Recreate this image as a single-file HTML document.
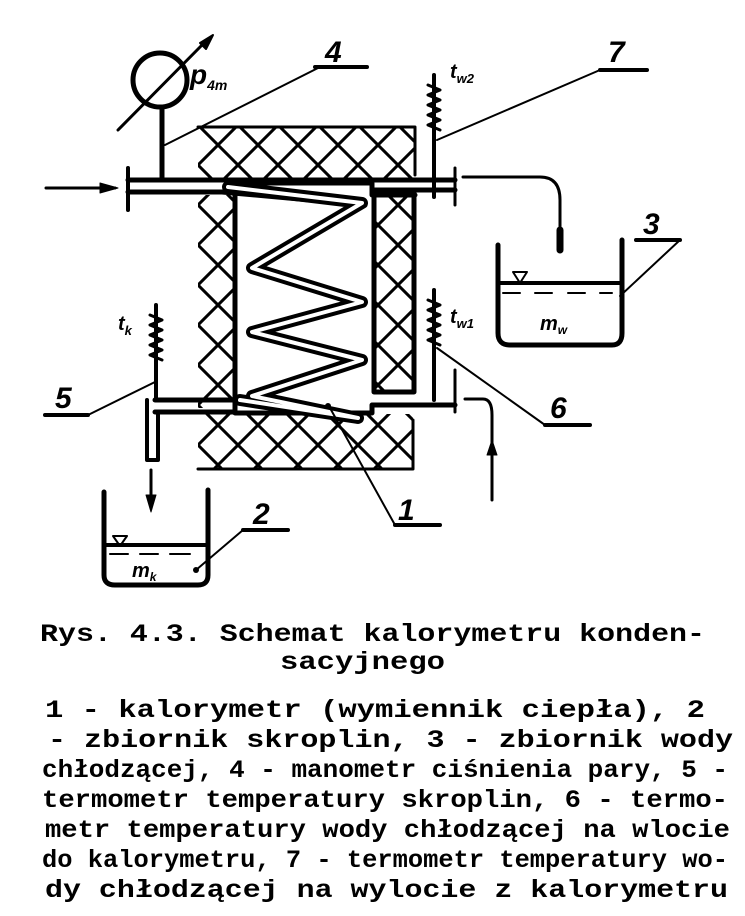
<!DOCTYPE html>
<html><head><meta charset="utf-8"><style>
html,body{margin:0;padding:0;background:#fff;}
svg{display:block;}
text{font-family:"Liberation Mono",monospace;font-weight:bold;fill:#000;}
.it{font-family:"Liberation Sans",sans-serif;font-style:italic;font-weight:bold;}
</style></head><body>
<svg width="745" height="916" viewBox="0 0 745 916" xmlns="http://www.w3.org/2000/svg">
<defs>
<pattern id="hx" x="198" y="125" width="40" height="40" patternUnits="userSpaceOnUse">
<path d="M0 0L40 40M40 0L0 40" stroke="#000" stroke-width="3"/>
</pattern>
</defs>
<g stroke="#000" fill="none" stroke-linecap="round" stroke-linejoin="round">
<rect x="198" y="127" width="217" height="53" fill="url(#hx)" stroke="none"/>
<path d="M198 127H415V175" stroke-width="3"/>
<rect x="198" y="195" width="37" height="213" fill="url(#hx)" stroke="none"/>
<rect x="198" y="414" width="215" height="55" fill="url(#hx)" stroke="none"/>
<path d="M198 469H413V420" stroke-width="3"/>
<rect x="374" y="190" width="40" height="202" fill="url(#hx)" stroke="#000" stroke-width="5"/>
<path d="M235 410V183H372V195H415" stroke-width="5"/>
<path d="M235 413H372V405H455" stroke-width="5"/>
<path d="M128 180H455" stroke-width="5"/>
<path d="M128 192H222L365 205" stroke-width="5"/>
<path d="M374 190H455" stroke-width="5"/>
<path d="M128 168V210" stroke-width="4"/>
<path d="M455 168V205M455 370V412" stroke-width="3"/>
<path d="M46 188H115" stroke-width="3"/>
<path d="M100 183L118 188L100 193Z" fill="#000" stroke-width="1"/>
<path d="M228 187L362 203L252 268L362 302L252 332L362 360L252 396L358 418L240 400" stroke-width="12"/>
<path d="M228 187L362 203L252 268L362 302L252 332L362 360L252 396L358 418L240 400" stroke="#fff" stroke-width="4"/>
<path d="M155 400H235" stroke-width="5"/>
<path d="M155 412H235" stroke-width="5"/>
<path d="M147 400V460H158V412" stroke-width="4"/>
<path d="M151 470V508" stroke-width="3"/>
<path d="M146 495L151 512L156 495Z" fill="#000" stroke-width="1"/>
<circle cx="160" cy="80" r="27" stroke-width="5"/>
<path d="M118 130L205 42" stroke-width="3"/>
<path d="M213 35L200 43L206 49Z" fill="#000" stroke-width="2"/>
<path d="M162 107V180" stroke-width="5"/>
<path d="M434 75V197" stroke-width="4"/>
<path d="M428 85l12 5l-12 5l12 5l-12 5l12 5l-12 5l12 5l-12 5l12 5" stroke-width="3"/>
<path d="M434 290V400" stroke-width="4"/>
<path d="M428 300l12 5l-12 5l12 5l-12 5l12 5l-12 5l12 5l-12 5l12 5" stroke-width="3"/>
<path d="M156 305V400" stroke-width="4"/>
<path d="M150 315l12 5l-12 5l12 5l-12 5l12 5l-12 5l12 5l-12 5l12 5" stroke-width="3"/>
<path d="M463 177H540Q560 177 560 200V248" stroke-width="3"/>
<path d="M560 230V250" stroke-width="7"/>
<path d="M465 399H483Q492 399 492 415V500" stroke-width="3"/>
<path d="M487 455L492 440L497 455Z" fill="#000" stroke-width="1"/>
<path d="M498 245V333Q498 345 510 345H612Q622 345 622 333V240" stroke-width="5"/>
<path d="M498 283H622" stroke-width="4"/>
<path d="M503 293H520M535 293H552M568 293H585M600 293H612" stroke-width="2"/>
<path d="M513 272L520 283L527 272Z" stroke-width="2"/>
<path d="M104 492V575Q104 585 115 585H198Q208 585 208 575V490" stroke-width="5"/>
<path d="M104 545H208" stroke-width="4"/>
<path d="M110 554H128M140 554H158M170 554H190" stroke-width="2"/>
<path d="M113 536L120 546L127 536Z" stroke-width="2"/>
<path d="M165 145L320 67H367" stroke-width="2"/>
<path d="M315 67H367" stroke-width="4"/>
<path d="M437 140L600 70H647" stroke-width="2"/>
<path d="M600 70H647" stroke-width="4"/>
<path d="M620 296L680 240H636" stroke-width="2"/>
<path d="M636 240H680" stroke-width="4"/>
<path d="M437 348L545 425H590" stroke-width="2"/>
<path d="M545 425H590" stroke-width="4"/>
<path d="M155 382L88 415H45" stroke-width="2"/>
<path d="M45 415H88" stroke-width="4"/>
<path d="M330 408L395 525H440" stroke-width="2"/>
<path d="M395 525H440" stroke-width="4"/>
<path d="M196 570L243 530H288" stroke-width="2"/>
<path d="M243 530H288" stroke-width="4"/>
</g>
<circle cx="196" cy="570" r="3" fill="#000"/>
<circle cx="328" cy="406" r="3" fill="#000"/>
<text class="it" x="325" y="62" font-size="30">4</text>
<text class="it" x="608" y="62" font-size="30">7</text>
<text class="it" x="643" y="234" font-size="30">3</text>
<text class="it" x="550" y="418" font-size="30">6</text>
<text class="it" x="55" y="408" font-size="30">5</text>
<text class="it" x="398" y="520" font-size="30">1</text>
<text class="it" x="253" y="524" font-size="30">2</text>
<text class="it" x="190" y="84" font-size="28">p<tspan font-size="14" dy="6">4m</tspan></text>
<text class="it" x="450" y="78" font-size="20">t<tspan font-size="13" dy="5">w2</tspan></text>
<text class="it" x="450" y="323" font-size="20">t<tspan font-size="13" dy="5">w1</tspan></text>
<text class="it" x="118" y="330" font-size="20">t<tspan font-size="13" dy="5">k</tspan></text>
<text class="it" x="540" y="330" font-size="20">m<tspan font-size="12" dy="4">w</tspan></text>
<text class="it" x="132" y="577" font-size="20">m<tspan font-size="12" dy="4">k</tspan></text>
<g font-size="25">
<text x="40" y="641" textLength="665" lengthAdjust="spacingAndGlyphs">Rys. 4.3. Schemat kalorymetru konden-</text>
<text x="280" y="669" textLength="165" lengthAdjust="spacingAndGlyphs">sacyjnego</text>
<text x="45" y="717" textLength="660" lengthAdjust="spacingAndGlyphs">1 - kalorymetr (wymiennik ciepła), 2</text>
<text x="48" y="747" textLength="685" lengthAdjust="spacingAndGlyphs">- zbiornik skroplin, 3 - zbiornik wody</text>
<text x="42" y="777" textLength="686" lengthAdjust="spacingAndGlyphs">chłodzącej, 4 - manometr ciśnienia pary, 5 -</text>
<text x="42" y="807" textLength="686" lengthAdjust="spacingAndGlyphs">termometr temperatury skroplin, 6 - termo-</text>
<text x="45" y="837" textLength="685" lengthAdjust="spacingAndGlyphs">metr  temperatury wody chłodzącej na wlocie</text>
<text x="42" y="867" textLength="686" lengthAdjust="spacingAndGlyphs">do kalorymetru, 7 - termometr temperatury wo-</text>
<text x="45" y="897" textLength="683" lengthAdjust="spacingAndGlyphs">dy chłodzącej na wylocie z  kalorymetru</text>
</g>
</svg>
</body></html>
